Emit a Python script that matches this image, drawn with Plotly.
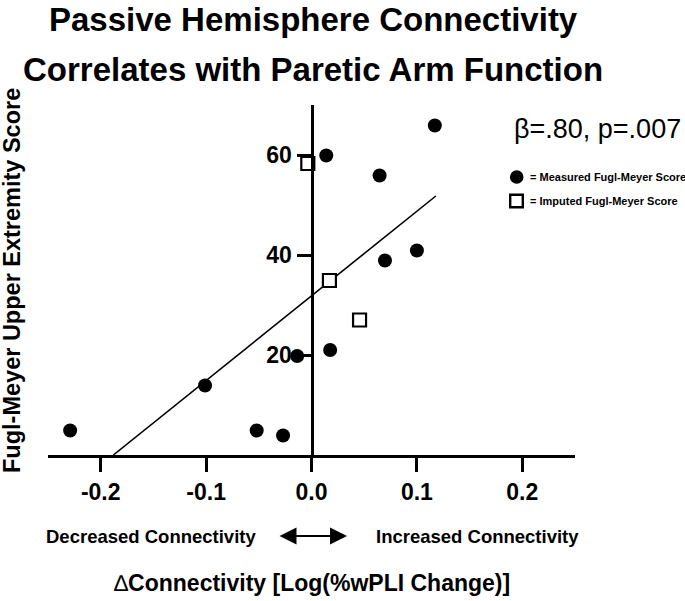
import plotly.graph_objects as go

# ---- data ----
measured_x = [-0.229, -0.101, -0.052, -0.027, -0.0136, 0.0177, 0.014, 0.0646, 0.0697, 0.100, 0.117]
measured_y = [4.9, 13.9, 4.9, 3.9, 19.8, 21.0, 59.9, 55.9, 38.9, 40.9, 65.9]
imputed_x = [-0.0035, 0.017, 0.0456]
imputed_y = [58.3, 34.9, 27.0]
fit_x = [-0.188, 0.118]
fit_y = [0.0, 51.8]
x_ticks = [-0.2, -0.1, 0.0, 0.1, 0.2]
x_tick_labels = ["-0.2", "-0.1", "0.0", "0.1", "0.2"]
y_ticks = [20, 40, 60]
y_tick_labels = ["20", "40", "60"]

W, H = 685, 601
L, R, T, B = 48, 110, 105, 146
PW, PH = W - L - R, H - T - B
FONT = "Liberation Sans, Arial, sans-serif"


def px(x):
    return (x - L) / PW


def py(y):
    return (H - B - y) / PH


fig = go.Figure()
fig.add_trace(go.Scatter(x=fit_x, y=fit_y, mode="lines",
                         line=dict(color="black", width=1.6),
                         showlegend=False, hoverinfo="skip"))
fig.add_trace(go.Scatter(x=measured_x, y=measured_y, mode="markers",
                         marker=dict(symbol="circle", size=14, color="black"),
                         showlegend=False, cliponaxis=False))
fig.add_trace(go.Scatter(x=imputed_x, y=imputed_y, mode="markers",
                         marker=dict(symbol="square", size=13, color="white",
                                     line=dict(color="black", width=2.2)),
                         showlegend=False, cliponaxis=False))

axis_common = dict(showgrid=False, zeroline=False, showline=True, linecolor="black",
                   linewidth=3, ticks="outside", ticklen=14, tickwidth=3,
                   tickcolor="black",
                   tickfont=dict(family=FONT, size=23, color="black", weight="bold"))

fig.update_layout(
    width=W, height=H,
    margin=dict(l=L, r=R, t=T, b=B),
    paper_bgcolor="white", plot_bgcolor="white",
    xaxis=dict(range=[-0.25, 0.25], tickvals=x_ticks, ticktext=x_tick_labels,
               **axis_common),
    yaxis=dict(range=[0, 70], tickvals=y_ticks, ticktext=y_tick_labels,
               anchor="free", position=0.5, **axis_common),
    showlegend=False,
)

ann = []
# title
ann.append(dict(text="<b>Passive Hemisphere Connectivity</b>", x=px(313), y=py(20),
                font=dict(size=33)))
ann.append(dict(text="<b>Correlates with Paretic Arm Function</b>", x=px(313), y=py(70),
                font=dict(size=33)))
# stats
ann.append(dict(text="β=.80, p=.007", x=px(597), y=py(129), font=dict(size=27)))
# legend text
ann.append(dict(text="<b>= Measured Fugl-Meyer Score</b>", x=px(528), y=py(177),
                xanchor="left", font=dict(size=11)))
ann.append(dict(text="<b>= Imputed Fugl-Meyer Score</b>", x=px(528), y=py(201),
                xanchor="left", font=dict(size=11)))
# y title
ann.append(dict(text="<b>Fugl-Meyer Upper Extremity Score</b>", x=px(12), y=py(281),
                textangle=-90, font=dict(size=23.5)))
# bottom labels
ann.append(dict(text="<b>Decreased Connectivity</b>", x=px(151), y=py(536),
                font=dict(size=18.5)))
ann.append(dict(text="<b>Increased Connectivity</b>", x=px(477), y=py(536),
                font=dict(size=18.5)))
ann.append(dict(text="∆<b>Connectivity [Log(%wPLI Change)]</b>", x=px(312), y=py(583),
                font=dict(size=23)))

for a in ann:
    a.setdefault("xanchor", "center")
    a.setdefault("yanchor", "middle")
    a["xref"] = "paper"
    a["yref"] = "paper"
    a["showarrow"] = False
    a["font"] = dict(family=FONT, color="black", **a["font"])
    fig.add_annotation(**a)

# double-headed arrow
fig.add_annotation(xref="paper", yref="paper", x=px(347), y=py(536), ax=-69, ay=0,
                   text="", showarrow=True, arrowside="end+start",
                   arrowhead=2, startarrowhead=2, arrowsize=1.7, startarrowsize=1.7,
                   arrowwidth=2, arrowcolor="black")

# legend symbols
fig.add_shape(type="circle", xref="paper", yref="paper", xsizemode="pixel", ysizemode="pixel",
              xanchor=px(516.7), yanchor=py(177), x0=-6.8, x1=6.8, y0=-6.8, y1=6.8,
              fillcolor="black", line=dict(color="black", width=0))
fig.add_shape(type="rect", xref="paper", yref="paper", xsizemode="pixel", ysizemode="pixel",
              xanchor=px(516.5), yanchor=py(201), x0=-6.3, x1=6.3, y0=-6.3, y1=6.3,
              fillcolor="white", line=dict(color="black", width=2.4))

fig.write_html("out.html",
               config={"displayModeBar": False, "staticPlot": True},
               post_script="document.body.style.margin='0px';document.body.style.padding='0px';")
